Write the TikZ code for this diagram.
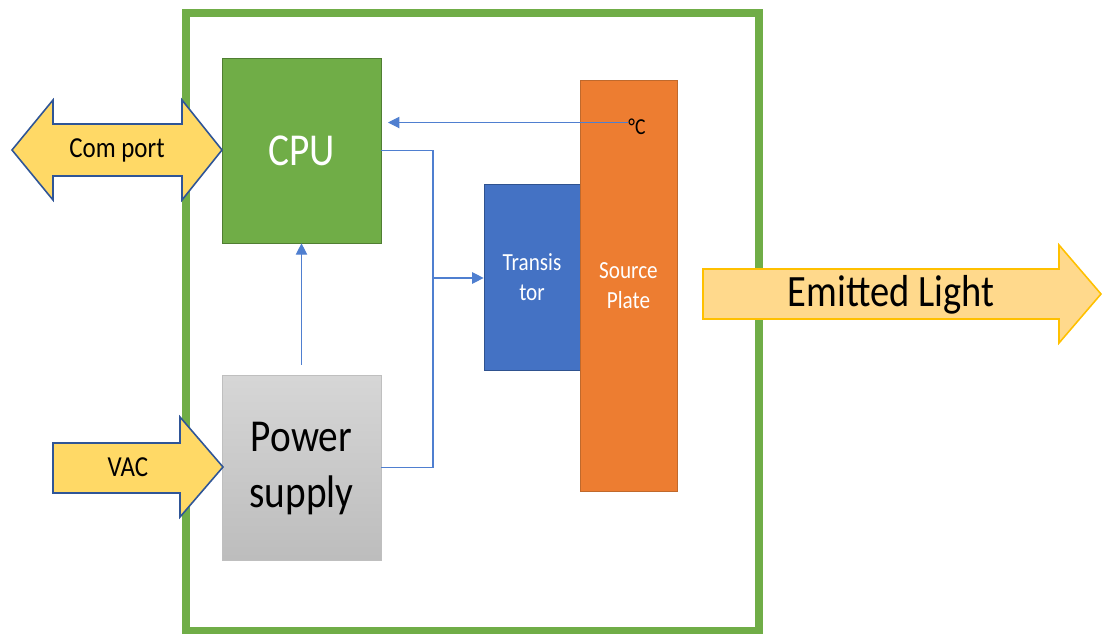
\documentclass[tikz,border=0pt]{standalone}
\usepackage{fontspec}
\setmainfont{Carlito}[FakeStretch=0.86]
\usetikzlibrary{
  arrows.meta
}

\definecolor{frameGreen}{HTML}{70AD47}
\definecolor{cpuEdge}{HTML}{507E32}
\definecolor{trBlue}{HTML}{4472C4}
\definecolor{trEdge}{HTML}{2F528F}
\definecolor{plateOrange}{HTML}{ED7D31}
\definecolor{plateEdge}{HTML}{C0692C}
\definecolor{portYellow}{HTML}{FFD966}
\definecolor{portEdge}{HTML}{2F5597}
\definecolor{lightFill}{HTML}{FFD98C}
\definecolor{lightEdge}{HTML}{FFC000}
\definecolor{wireBlue}{HTML}{4F7FD0}
\definecolor{psEdge}{HTML}{BFBFBF}

\tikzset{
  block/.style={draw, inner sep=0pt, align=center,
    minimum width=3.18cm, minimum height=3.7cm},
  wire/.style={wireBlue, line width=0.6pt},
  bigarrow/.style={line width=0.9pt, line join=miter}
}

\begin{document}
\begin{tikzpicture}[x=0.02cm, y=-0.02cm,
  >={Triangle[length=6.5pt,width=6.5pt]}]

\useasboundingbox (0,0) rectangle (1102,634);

%--------------------
% housing
%--------------------
\draw[frameGreen, line width=4pt] (186,13) rectangle (759,631);

%--------------------
% blocks
%--------------------
% CPU
\node[block, draw=cpuEdge, fill=frameGreen, text=white,
  font=\fontsize{26}{30}\selectfont] (cpu) at (301.5,150.5) {CPU};

% power supply
\node[block, draw=psEdge, top color=black!16, bottom color=black!26,
  font=\fontsize{26}{32}\selectfont, text depth=3pt] (ps) at (301.5,467.5)
  {Power\\supply};

% transistor and source plate
\node[block, draw=trEdge, fill=trBlue, text=white,
  minimum width=1.92cm, minimum height=3.72cm,
  font=\fontsize{14}{17}\selectfont] (tr) at (532,277) {Transis\\tor};

\node[block, draw=plateEdge, fill=plateOrange, text=white,
  minimum width=1.94cm, minimum height=8.22cm,
  font=\fontsize{14}{17}\selectfont] (plate) at (628.5,285.5)
  {Source\\Plate};

% temperature sensor
\node[inner sep=0pt, anchor=north west,
  font=\fontsize{13}{15}\selectfont] (degC) at (628,119) {°C};

%--------------------
% wiring
%--------------------
\coordinate (junc) at (433,278);

% temperature back to the CPU
\draw[wire, ->] ([yshift=-2pt]degC.north west) -- ++(-240,0);

% CPU and power supply drive the transistor
\draw[wire] (cpu.east) -| (junc);
\draw[wire] (ps.east) -| (junc);
\draw[wire, ->] (junc) -- (junc -| tr.west);

% power supply feeds the CPU
\draw[wire, ->] ([yshift=0.2cm]ps.north) -- (cpu.south);

%--------------------
% block arrows
%--------------------
% com port
\draw[bigarrow, draw=portEdge, fill=portYellow]
  (12,150) -- (53,100) -- (53,124) -- (182,124) -- (182,100)
  -- (222,150) -- (182,200) -- (182,176) -- (53,176) -- (53,200) -- cycle;
\node[font=\fontsize{16.5}{19}\selectfont] (com) at (117,150) {Com port};

% mains input
\draw[bigarrow, draw=portEdge, fill=portYellow]
  (53,443) -- (180,443) -- (180,417) -- (223,467)
  -- (180,517) -- (180,493) -- (53,493) -- cycle;
\node[font=\fontsize{16.5}{19}\selectfont] (vac) at (128,467) {VAC};

% light output
\draw[bigarrow, draw=lightEdge, fill=lightFill]
  (703,269) -- (1059,269) -- (1059,245) -- (1101,294)
  -- (1059,343) -- (1059,319) -- (703,319) -- cycle;
\node[font=\fontsize{25.5}{30}\selectfont] (light) at (891,295)
  {Emitted Light};

\end{tikzpicture}
\end{document}
